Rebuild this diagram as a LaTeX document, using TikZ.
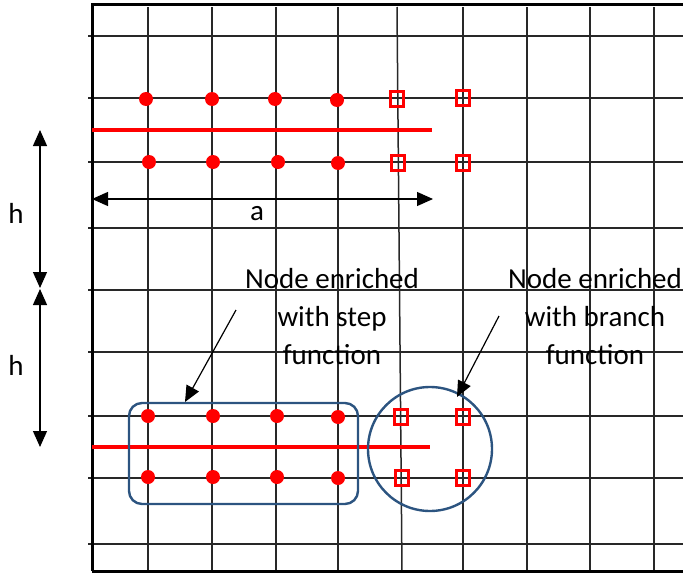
\documentclass[tikz,border=0pt]{standalone}
\usepackage{fontspec}
\setmainfont{Carlito}
\usetikzlibrary{arrows.meta}
\definecolor{gridc}{RGB}{40,40,40}
\definecolor{ringblue}{RGB}{44,84,128}
\tikzset{
  gridline/.style={draw=gridc, line width=1.5pt},
  borderline/.style={draw=black, line width=3pt},
  crackline/.style={draw=red, line width=3.2pt},
  reddot/.style={circle, fill=red, inner sep=0pt, minimum size=14pt},
  redsq/.style={rectangle, draw=red, line width=2.3pt, inner sep=0pt, minimum width=13pt, minimum height=15pt},
  ring/.style={draw=ringblue, line width=2.4pt},
  dimarrow/.style={draw=black, line width=1.2pt, {Triangle[length=16pt,width=14pt]}-{Triangle[length=16pt,width=14pt]}},
  notearrow/.style={draw=black, line width=1.2pt, -{Triangle[length=16pt,width=14pt]}},
  lbl/.style={font=\fontsize{29}{38}\selectfont, inner sep=0pt, align=center}
}
\begin{document}
\begin{tikzpicture}[x=1pt,y=-1pt]
\useasboundingbox (0,0) rectangle (683,573);
% grid
\foreach \gx in {148,212,276,338,463,527,590,654} \draw[gridline] (\gx,7) -- (\gx,571);
\draw[gridline] (397,7) -- (402,571);
\foreach \gy in {36,98,162,228,290,352,416,478,544} \draw[gridline] (88,\gy) -- (683,\gy);
% border
\draw[borderline] (92,571) -- (92,4) -- (683,4);
\draw[borderline] (92,571) -- (683,571);
% crack lines
\coordinate (c1a) at (92,130); \coordinate (c1b) at (432,130);
\draw[crackline] (c1a) -- (c1b);
\coordinate (c2a) at (92,447); \coordinate (c2b) at (430,447);
\draw[crackline] (c2a) -- (c2b);
% top nodes
\node[reddot] (t1) at (146,99) {};
\node[reddot] (t2) at (212,99) {};
\node[reddot] (t3) at (275,99) {};
\node[reddot] (t4) at (337,100) {};
\node[redsq] (t5) at (397,99) {};
\node[redsq] (t6) at (463,98) {};
\node[reddot] (u1) at (149,162) {};
\node[reddot] (u2) at (213,162) {};
\node[reddot] (u3) at (278,162) {};
\node[reddot] (u4) at (338,163) {};
\node[redsq] (u5) at (398,163) {};
\node[redsq] (u6) at (463,163) {};
% bottom nodes
\node[reddot] (b1) at (148,416) {};
\node[reddot] (b2) at (213,416) {};
\node[reddot] (b3) at (277,416) {};
\node[reddot] (b4) at (338,417) {};
\node[redsq] (b5) at (401,417) {};
\node[redsq] (b6) at (463,417) {};
\node[reddot] (d1) at (148,477) {};
\node[reddot] (d2) at (213,477) {};
\node[reddot] (d3) at (277,477) {};
\node[reddot] (d4) at (338,478) {};
\node[redsq] (d5) at (402,478) {};
\node[redsq] (d6) at (463,478) {};
% enrichment regions
\node[ring, rectangle, rounded corners=13pt, minimum width=229pt, minimum height=101pt, inner sep=0pt] (stepbox) at (243.5,453.5) {};
\node[ring, circle, minimum size=124pt, inner sep=0pt] (branchring) at (430,449) {};
% dimension a
\coordinate (aL) at (92,199); \coordinate (aR) at (433,199);
\draw[dimarrow] (aL) -- (aR);
\node[lbl, anchor=base] (alabel) at (257,220) {a};
% dimension h
\coordinate (h0) at (40,130); \coordinate (h1) at (40,288); \coordinate (h1b) at (40,289); \coordinate (h2) at (40,447);
\draw[dimarrow] (h0) -- (h1);
\draw[dimarrow] (h1b) -- (h2);
\node[lbl, anchor=base] (hlabel1) at (16,223) {h};
\node[lbl, anchor=base] (hlabel2) at (16,375) {h};
% annotations (anchor base = last line baseline)
\node[lbl, anchor=base] (steptext) at (332,364) {Node enriched\\with step\\function};
\node[lbl, anchor=base] (branchtext) at (595,364) {Node enriched\\with branch\\function};
\coordinate (sA) at (236,310); \coordinate (sB) at (185,402);
\draw[notearrow] (sA) -- (sB);
\coordinate (rA) at (499,316); \coordinate (rB) at (457,397);
\draw[notearrow] (rA) -- (rB);
\end{tikzpicture}
\end{document}
